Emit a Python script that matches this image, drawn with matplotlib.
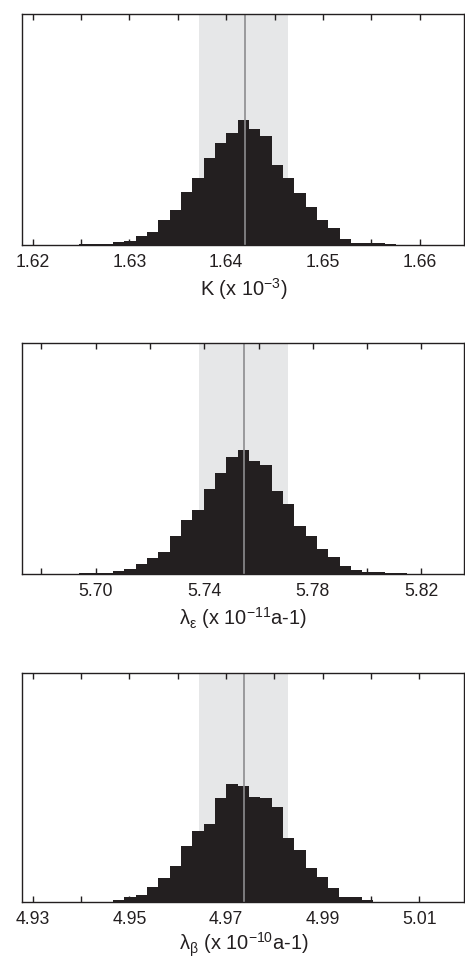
import matplotlib.pyplot as plt
import numpy as np

plt.rcParams['font.family'] = ['Liberation Sans', 'DejaVu Sans']
plt.rcParams['mathtext.fontset'] = 'custom'
plt.rcParams['mathtext.rm'] = 'Liberation Sans'
plt.rcParams['mathtext.it'] = 'Liberation Sans:italic'

# histogram heights (relative, 39 bins spanning the axis)
k_counts = [0, 0.1, 0.2, 0.2, 0.4, 0.5, 0.7, 0.8, 2.7, 4, 9, 13.3, 25.3, 35, 53.3, 66.7,
            86.7, 101.7, 111.7, 124.7, 115.7, 109, 80, 66.7, 51.7, 37.7, 25, 17, 6, 2.3,
            1.7, 2.3, 0.7, 0.4, 0.3, 0.2, 0.1, 0, 0]
le_counts = [0, 0, 0, 0, 0, 0.2, 0.3, 1.0, 2.5, 4.7, 9.3, 15.7, 21.3, 37.3, 54, 63.3,
             85.3, 101, 117, 123.7, 113, 108.7, 83.3, 70, 48, 37.3, 24.3, 17, 7.7, 3.3,
             1.5, 1.3, 0.3, 0.1, 0, 0, 0, 0, 0]
lb_counts = [0, 0, 0, 0, 0.1, 0.2, 0.7, 0.7, 2.7, 5.2, 7.8, 15.3, 24.7, 37, 57, 71.7,
             78.7, 105.3, 119.7, 117, 106, 105.3, 96.3, 65.3, 53, 34.7, 25.7, 14.3, 5.2, 5.5,
             2.2, 0.8, 0.8, 0.3, 0.3, 0.1, 0, 0, 0]

# bin start, bin width, axis limits, credible band, best value
k_bins = (1.61893, 0.001172)
le_bins = (5.67299, 0.004172)
lb_bins = (4.92785, 0.002345)
k_xlim = (1.61893, 1.66462)
le_xlim = (5.67299, 5.83577)
lb_xlim = (4.92785, 5.01935)
k_band = (1.6372, 1.6464)
le_band = (5.73804, 5.77068)
lb_band = (4.96442, 4.98277)
k_best = 1.6419
le_best = 5.75472
lb_best = 4.97384

k_ticks = [1.62, 1.625, 1.63, 1.635, 1.64, 1.645, 1.65, 1.655, 1.66]
k_labels = ['1.62', '', '1.63', '', '1.64', '', '1.65', '', '1.66']
le_ticks = [5.68, 5.70, 5.72, 5.74, 5.76, 5.78, 5.80, 5.82]
le_labels = ['', '5.70', '', '5.74', '', '5.78', '', '5.82']
lb_ticks = [4.93, 4.94, 4.95, 4.96, 4.97, 4.98, 4.99, 5.00, 5.01]
lb_labels = ['4.93', '', '4.95', '', '4.97', '', '4.99', '', '5.01']

xlabels = [r'K (x 10$^{\mathrm{-3}}$)',
           r'λ$_{\mathrm{ε}}$ (x 10$^{\mathrm{-11}}$a-1)',
           r'λ$_{\mathrm{β}}$ (x 10$^{\mathrm{-10}}$a-1)']

dark = '#231f20'
fig = plt.figure(figsize=(4.65, 9.6), dpi=100)

positions = [[0.048, 0.7448, 0.9505, 0.2403],
             [0.048, 0.4026, 0.9505, 0.2396],
             [0.048, 0.0600, 0.9505, 0.2387]]
labelpads = [4, 4, 1.5]

panels = [(k_counts, k_bins, k_xlim, k_band, k_best, k_ticks, k_labels),
          (le_counts, le_bins, le_xlim, le_band, le_best, le_ticks, le_labels),
          (lb_counts, lb_bins, lb_xlim, lb_band, lb_best, lb_ticks, lb_labels)]

for pos, (counts, bins, xlim, band, best, ticks, labels), xl, lp in zip(positions, panels, xlabels, labelpads):
    ax = fig.add_axes(pos)
    edges = bins[0] + bins[1] * np.arange(len(counts) + 1)
    ax.axvspan(band[0], band[1], color='#e6e7e8', lw=0, zorder=0)
    ax.stairs(counts, edges, fill=True, color=dark, lw=0, zorder=1)
    ax.axvline(best, color='#8c8c8e', lw=1.2, zorder=2)
    ax.set_xlim(*xlim)
    ax.set_ylim(0, 231)
    ax.set_yticks([])
    ax.set_xticks(ticks)
    ax.set_xticklabels(labels)
    ax.tick_params(axis='x', direction='in', top=True, length=4.3, width=1.0,
                   color=dark, labelsize=12.7, pad=6.5, labelcolor=dark)
    for s in ax.spines.values():
        s.set_color(dark)
        s.set_linewidth(1.0)
    ax.set_xlabel(xl, fontsize=14.4, color=dark, labelpad=lp)

plt.savefig('out.png', dpi=100)
